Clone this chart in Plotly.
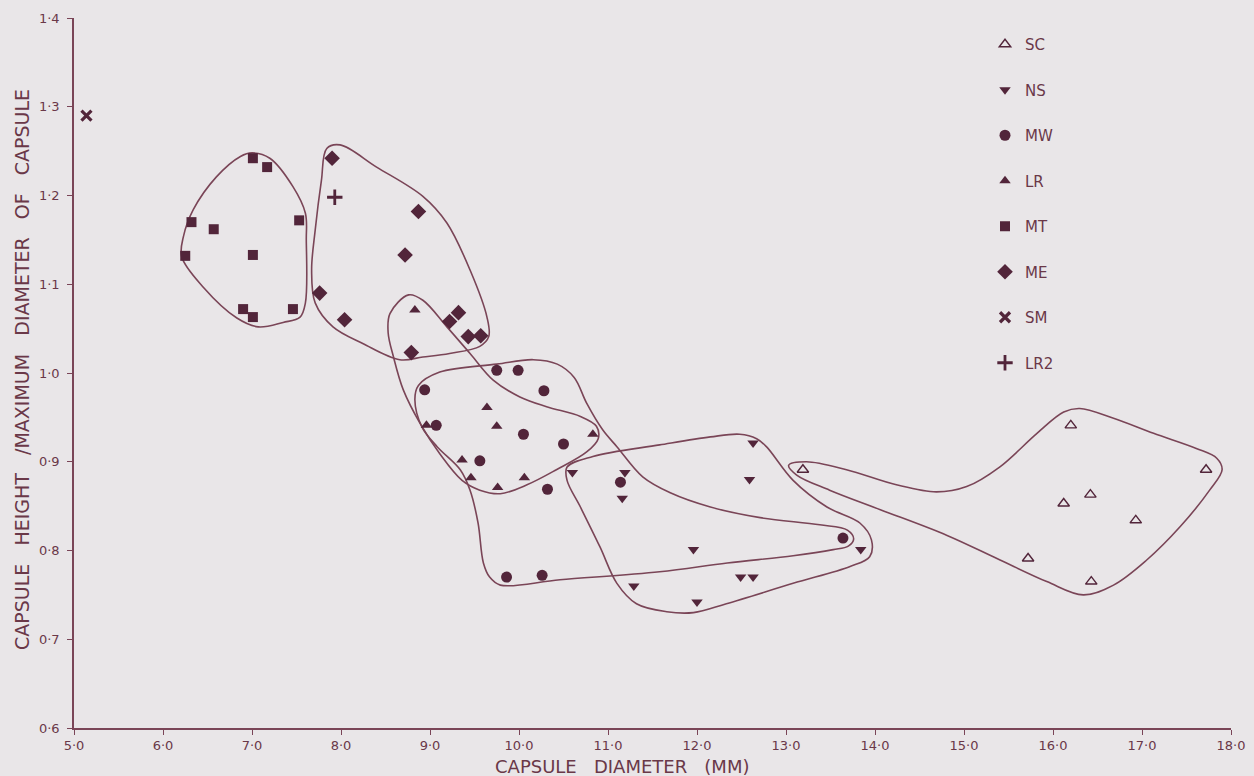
import plotly.graph_objects as go

# ---------------- data ----------------
sc_x = [13.19, 16.20, 17.72, 16.42, 16.12, 16.93, 15.72, 16.43]
sc_y = [0.891, 0.941, 0.891, 0.863, 0.853, 0.834, 0.791, 0.765]

ns_x = [10.60, 11.19, 11.16, 12.63, 12.59, 11.96, 12.49, 12.63, 11.29, 12.00, 13.84]
ns_y = [0.888, 0.888, 0.859, 0.921, 0.880, 0.801, 0.770, 0.770, 0.760, 0.742, 0.801]

mw_x = [9.75, 9.99, 10.28, 8.94, 9.07, 10.05, 10.50, 9.56, 10.32, 9.86, 10.26, 11.14, 13.64]
mw_y = [1.003, 1.003, 0.980, 0.981, 0.941, 0.931, 0.920, 0.901, 0.869, 0.770, 0.772, 0.877, 0.814]

lr_x = [8.83, 9.64, 9.75, 8.96, 10.83, 9.36, 9.46, 10.06, 9.76]
lr_y = [1.071, 0.961, 0.940, 0.941, 0.931, 0.902, 0.882, 0.882, 0.871]

mt_x = [7.01, 7.17, 6.32, 6.57, 7.53, 6.25, 7.01, 6.90, 7.01, 7.46]
mt_y = [1.242, 1.232, 1.170, 1.162, 1.172, 1.132, 1.133, 1.072, 1.063, 1.072]

me_x = [7.90, 8.87, 8.72, 7.76, 8.04, 9.32, 9.22, 9.43, 9.57, 8.79]
me_y = [1.242, 1.182, 1.133, 1.090, 1.060, 1.068, 1.058, 1.041, 1.042, 1.023]

sm_x = [5.14]
sm_y = [1.29]

lr2_x = [7.93]
lr2_y = [1.198]

# hand-drawn enclosing outlines (data coordinates)
mt_loop_x = [7.00, 7.20, 7.46, 7.60, 7.61, 7.60, 7.54, 7.35, 7.07, 6.83, 6.45, 6.21, 6.23, 6.34, 6.60, 6.87]
mt_loop_y = [1.248, 1.242, 1.210, 1.180, 1.150, 1.079, 1.063, 1.057, 1.052, 1.062, 1.097, 1.131, 1.154, 1.184, 1.221, 1.244]

me_loop_x = [7.99, 8.40, 8.92, 9.19, 9.45, 9.64, 9.66, 9.56, 9.22, 8.92, 8.66, 8.25, 7.91, 7.71, 7.67, 7.71, 7.78, 7.84]
me_loop_y = [1.257, 1.232, 1.199, 1.169, 1.116, 1.063, 1.041, 1.030, 1.022, 1.018, 1.015, 1.033, 1.052, 1.079, 1.116, 1.161, 1.217, 1.253]

lr_loop_x = [8.76, 8.55, 8.53, 8.59, 8.70, 8.89, 9.11, 9.36, 9.56, 9.79, 10.09, 10.42, 10.76, 10.89, 10.87, 10.69, 10.31, 10.01, 9.71, 9.45, 9.19, 8.92]
lr_loop_y = [1.088, 1.067, 1.045, 1.018, 0.981, 0.943, 0.909, 0.879, 0.868, 0.864, 0.874, 0.891, 0.911, 0.926, 0.940, 0.951, 0.962, 0.973, 0.992, 1.022, 1.052, 1.082]

mw_loop_x = [9.11, 9.75, 10.16, 10.43, 10.62, 10.76, 10.94, 11.10, 11.39, 11.70, 12.15, 12.71, 13.38, 13.69, 13.76, 13.70, 13.53, 13.08, 12.34, 11.58, 10.46, 9.79, 9.67, 9.60, 9.54, 9.45, 9.34, 9.08, 8.91, 8.83, 8.87]
mw_loop_y = [1.001, 1.010, 1.015, 1.010, 0.995, 0.966, 0.936, 0.917, 0.883, 0.865, 0.849, 0.837, 0.829, 0.823, 0.813, 0.805, 0.801, 0.794, 0.786, 0.776, 0.767, 0.761, 0.770, 0.786, 0.831, 0.868, 0.891, 0.917, 0.939, 0.970, 0.986]

ns_loop_x = [10.83, 11.58, 12.15, 12.48, 12.67, 12.78, 13.08, 13.46, 13.83, 13.96, 13.94, 13.72, 13.08, 12.33, 11.96, 11.66, 11.32, 11.10, 10.91, 10.69, 10.54, 10.54]
ns_loop_y = [0.906, 0.919, 0.928, 0.931, 0.926, 0.917, 0.879, 0.849, 0.831, 0.812, 0.793, 0.782, 0.763, 0.740, 0.730, 0.731, 0.740, 0.763, 0.804, 0.849, 0.879, 0.894]

sc_loop_x = [14.24, 14.69, 15.03, 15.40, 15.82, 16.12, 16.30, 16.68, 17.13, 17.61, 17.84, 17.90, 17.76, 17.43, 17.05, 16.68, 16.34, 15.93, 15.37, 14.81, 14.06, 13.49, 13.12, 13.03, 13.23, 13.68]
sc_loop_y = [0.874, 0.866, 0.872, 0.894, 0.932, 0.956, 0.960, 0.949, 0.932, 0.915, 0.904, 0.891, 0.868, 0.827, 0.789, 0.761, 0.750, 0.765, 0.791, 0.817, 0.846, 0.868, 0.885, 0.896, 0.900, 0.891]

x_ticks = [5, 6, 7, 8, 9, 10, 11, 12, 13, 14, 15, 16, 17, 18]
x_tick_text = ["5·0", "6·0", "7·0", "8·0", "9·0", "10·0", "11·0", "12·0", "13·0", "14·0", "15·0", "16·0", "17·0", "18·0"]
y_ticks = [0.6, 0.7, 0.8, 0.9, 1.0, 1.1, 1.2, 1.3, 1.4]
y_tick_text = ["0·6", "0·7", "0·8", "0·9", "1·0", "1·1", "1·2", "1·3", "1·4"]

SP = "\u00a0\u00a0\u00a0"
x_title = SP.join(["CAPSULE", "DIAMETER", "(MM)"])
y_title = SP.join(["CAPSULE", "HEIGHT", "/MAXIMUM", "DIAMETER", "OF", "CAPSULE"])

# ---------------- styling ----------------
BG = "#e9e6e8"
MARK = "#52253a"
LINE = "#7a4557"
TEXT = "#6a3848"
FONT = "DejaVu Sans"

fig = go.Figure()

loops = [(mt_loop_x, mt_loop_y), (me_loop_x, me_loop_y), (lr_loop_x, lr_loop_y),
         (mw_loop_x, mw_loop_y), (ns_loop_x, ns_loop_y), (sc_loop_x, sc_loop_y)]
for lx, ly in loops:
    fig.add_trace(go.Scatter(
        x=lx + lx[:1], y=ly + ly[:1], mode="lines",
        line=dict(color=LINE, width=1.6, shape="spline", smoothing=1.0),
        showlegend=False, hoverinfo="skip", cliponaxis=False))

series = [
    ("SC", sc_x, sc_y, "triangle-up-open", 10, 1.4),
    ("NS", ns_x, ns_y, "triangle-down", 10, 0),
    ("MW", mw_x, mw_y, "circle", 11, 0),
    ("LR", lr_x, lr_y, "triangle-up", 10, 0),
    ("MT", mt_x, mt_y, "square", 10, 0),
    ("ME", me_x, me_y, "diamond", 12, 0),
    ("SM", sm_x, sm_y, "x-thin", 10, 3.2),
    ("LR2", lr2_x, lr2_y, "cross-thin", 11, 2.8),
]
for name, xs, ys, sym, size, lw in series:
    fig.add_trace(go.Scatter(
        x=xs, y=ys, mode="markers", name=name, legendgroup=name,
        marker=dict(symbol=sym, size=size, color=MARK,
                    line=dict(color=MARK, width=lw)),
        cliponaxis=False,
    ))

L, R, T, B = 74, 1254 - 23, 18, 776 - 48

def px_x(p):
    return (p - L) / (R - L)

def px_y(p):
    return (B - p) / (B - T)

fig.update_layout(
    width=1254, height=776,
    paper_bgcolor=BG, plot_bgcolor=BG,
    margin=dict(l=L, r=1254 - R, t=T, b=776 - B, autoexpand=False),
    font=dict(family=FONT, color=TEXT, size=13),
    legend=dict(x=px_x(985), y=px_y(28), xanchor="left", yanchor="top",
                bgcolor="rgba(0,0,0,0)", font=dict(size=15, color=TEXT),
                tracegroupgap=23, itemwidth=30, itemsizing="trace"),
    showlegend=True,
    annotations=[
        dict(text=x_title, x=px_x(622), y=px_y(766), xref="paper", yref="paper",
             showarrow=False, font=dict(size=18, color=TEXT),
             xanchor="center", yanchor="middle"),
        dict(text=y_title, x=px_x(22), y=px_y(370), xref="paper", yref="paper",
             showarrow=False, textangle=-90, font=dict(size=19, color=TEXT),
             xanchor="center", yanchor="middle"),
    ],
)

fig.update_xaxes(
    range=[5, 18], tickvals=x_ticks, ticktext=x_tick_text, automargin=False,
    showgrid=False, zeroline=False, showline=True, linecolor=LINE, linewidth=1.5,
    ticks="outside", ticklen=5, tickcolor=LINE, tickfont=dict(size=13, color=TEXT),
)
fig.update_yaxes(
    range=[0.6, 1.4], tickvals=y_ticks, ticktext=y_tick_text, automargin=False,
    showgrid=False, zeroline=False, showline=True, linecolor=LINE, linewidth=1.5,
    ticks="outside", ticklen=5, tickcolor=LINE, tickfont=dict(size=13, color=TEXT),
    ticklabelstandoff=5,
)

fig.write_html(
    "out.html",
    config={"displayModeBar": False},
    post_script="document.body.style.margin='0';document.body.style.background='%s';" % BG,
)
